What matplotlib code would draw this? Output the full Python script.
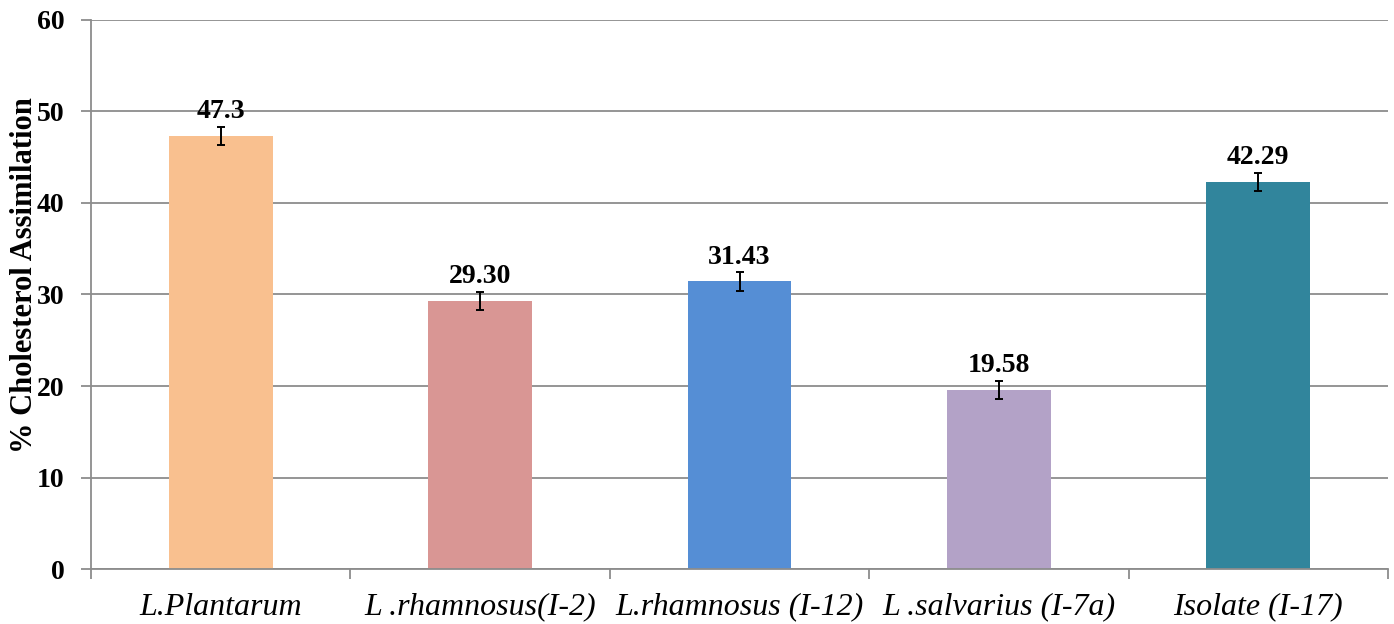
import matplotlib.pyplot as plt
import numpy as np

strains = ['L.Plantarum', 'L .rhamnosus(I-2)', 'L.rhamnosus (I-12)', 'L .salvarius (I-7a)', 'Isolate (I-17)']
values = [47.3, 29.30, 31.43, 19.58, 42.29]
labels = ['47.3', '29.30', '31.43', '19.58', '42.29']
errors = [1.0, 1.0, 1.0, 1.0, 1.0]
colors = ['#F9C08F', '#D99694', '#558ED5', '#B3A2C7', '#31859C']

plt.rcParams['font.family'] = 'Liberation Serif'

fig = plt.figure(figsize=(13.94, 6.24), dpi=100)
ax = fig.add_axes([0.0653, 0.0881, 0.9304, 0.8799])

x = np.arange(len(strains))
ax.bar(x, values, width=0.4, color=colors, zorder=2)
ax.errorbar(x, values, yerr=errors, fmt='none', ecolor='black', elinewidth=1.4, capsize=3, capthick=1.4, zorder=3)

for xi, v, e, t in zip(x, values, errors, labels):
    ax.text(xi, v + e + 0.3, t, ha='center', va='bottom', fontsize=20, fontweight='bold', zorder=4)

ax.set_xlim(-0.5, len(strains) - 0.5)
ax.set_ylim(0, 60)
ax.set_yticks(range(0, 61, 10))
ax.yaxis.grid(True, color='#8c8c8c', linewidth=1.3, zorder=0)
ax.set_axisbelow(True)

ax.set_xticks(x)
ax.set_xticklabels(strains, fontsize=23, style='italic')
ax.tick_params(axis='x', length=0, pad=17)
ax.set_xticks(np.arange(-0.5, len(strains)), minor=True)
ax.tick_params(axis='x', which='minor', length=7, color='#8c8c8c', width=1.3)
ax.tick_params(axis='y', length=7, color='#8c8c8c', width=1.3, labelsize=20, pad=12)
for lab in ax.get_yticklabels():
    lab.set_fontweight('bold')

ax.set_ylabel('% Cholesterol Assimilation', fontsize=22, fontweight='bold')
ax.yaxis.set_label_coords(-0.040, 0.535)

for s in ['top', 'right']:
    ax.spines[s].set_visible(False)
for s in ['left', 'bottom']:
    ax.spines[s].set_color('#8c8c8c')
    ax.spines[s].set_linewidth(1.3)

fig.savefig('out.png', dpi=100)
